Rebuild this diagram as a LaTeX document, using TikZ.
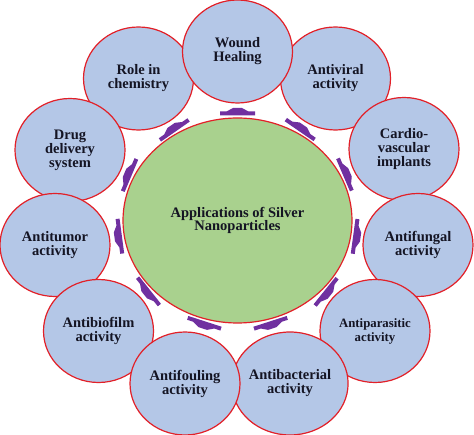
\documentclass[tikz,border=0pt]{standalone}
\usepackage{fontspec}
\setmainfont{Liberation Serif}
\usetikzlibrary{shapes.geometric}
\definecolor{cfill}{RGB}{180,199,231}
\definecolor{cgreen}{RGB}{169,209,142}
\definecolor{cred}{RGB}{226,32,40}
\definecolor{cpurple}{RGB}{112,48,160}
\definecolor{ctext}{RGB}{20,20,35}
\begin{document}
\begin{tikzpicture}[x=1pt,y=-1pt,
  app/.style={ellipse, draw=cred, line width=1.2pt, fill=cfill,
    minimum width=110pt, minimum height=103pt, inner sep=0pt,
    align=center, text=ctext, font=\bfseries\fontsize{14.5}{14}\selectfont},
  hub/.style={ellipse, draw=cred, line width=1.2pt, fill=cgreen,
    minimum width=229pt, minimum height=205pt, inner sep=0pt,
    align=center, text=ctext, font=\bfseries\fontsize{14.5}{13.5}\selectfont},
  flatarrow/.style={fill=cpurple, draw=none}]
\useasboundingbox (0,0) rectangle (474,435);
\node[hub] (hub) at (237.5,220.5) {Applications of Silver\\Nanoparticles};
\node[app] (role) at (138.5,78.5) {Role in\\chemistry};
\node[app] (antiviral) at (335.5,78.5) {Antiviral\\activity};
\node[app] (wound) at (237.5,51.5) {Wound\\Healing};
\node[app] (drug) at (70,150) {Drug\\delivery\\system};
\node[app] (cardio) at (404,149) {Cardio-\\vascular\\implants};
\node[app] (antitumor) at (55,245) {Antitumor\\activity};
\node[app] (antifungal) at (418,245) {Antifungal\\activity};
\node[app] (antibiofilm) at (98.5,331) {Antibiofilm\\activity};
\node[app, font=\bfseries\fontsize{12.8}{14}\selectfont] (antiparasitic) at (375,331) {Antiparasitic\\activity};
\node[app] (antibacterial) at (290,383.5) {Antibacterial\\activity};
\node[app] (antifouling) at (185,383.5) {Antifouling\\activity};
\foreach \px/\py/\rot in {237.5/112/0, 301.1/128.3/-34.6, 346.3/173.9/-66.8,
  356.6/236.6/-97.7, 327.3/292.8/-128.8, 271.1/324.7/-162.1,
  203.9/324.7/-197.9, 147.3/292.3/-231.5, 118.4/236.4/-262.4,
  128.2/174.5/-292.8, 173.4/128.7/-325.1}
  \fill[flatarrow, shift={(\px,\py)}, rotate=\rot]
    (-17.5,3.5) -- (17.5,3.5) -- (17.5,-0.5) -- (11,-0.5) -- (4.5,-4)
    -- (-4.5,-4) -- (-11,-0.5) -- (-17.5,-0.5) -- cycle;
\end{tikzpicture}
\end{document}
